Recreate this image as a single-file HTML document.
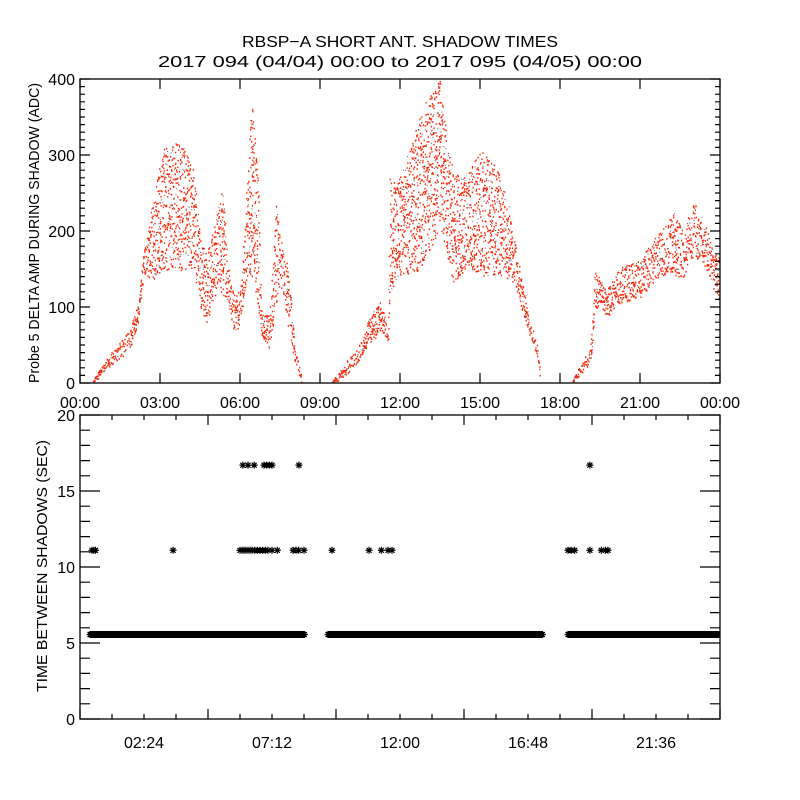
<!DOCTYPE html>
<html><head><meta charset="utf-8"><style>
html,body{margin:0;padding:0;background:#fff;}
svg{display:block;font-family:"Liberation Sans",sans-serif;}
</style></head><body>
<svg id="chart" width="800" height="800" viewBox="0 0 800 800">
<rect width="800" height="800" fill="#fff"/>
<text x="400" y="47" text-anchor="middle" font-size="16" textLength="316" lengthAdjust="spacingAndGlyphs">RBSP−A SHORT ANT. SHADOW TIMES</text>
<text x="400" y="67" text-anchor="middle" font-size="16" textLength="484" lengthAdjust="spacingAndGlyphs">2017 094 (04/04) 00:00 to 2017 095 (04/05) 00:00</text>
<defs><clipPath id="clipTop"><rect x="80" y="79" width="640" height="304"/></clipPath>
<clipPath id="clipBot"><rect x="80" y="415" width="640" height="304"/></clipPath></defs>
<g id="topPanel"></g>
<g id="botPanel"></g>
</svg>
<script>
// ---- top panel data (envelope of probe 5 delta amp) ----
const seg1Hours=[0.49,1.24,1.88,2.18,2.37,2.62,3.1,3.75,4.25,4.5,4.75,5.1,5.35,5.55,5.75,6.0,6.2,6.45,6.68,6.8,7.1,7.35,7.5,7.8,8.05,8.3];
const seg1Lo=[0,25,45,80,140,130,150,146,152,100,80,120,116,107,67,76,120,142,99,63,45,103,133,73,28,0];
const seg1Hi=[5,45,70,110,170,220,310,318,288,195,169,218,261,152,116,125,230,384,252,90,90,239,195,152,54,10];
const seg2Hours=[9.45,10.0,10.5,10.87,11.3,11.55,11.62,12.0,12.63,13.1,13.5,13.75,14.0,14.5,15.0,15.62,16.1,16.4,16.75,17.12,17.25];
const seg2Lo=[0,10,33,54,67,54,120,142,146,173,204,169,133,152,142,142,138,120,73,37,0];
const seg2Hi=[3,30,54,90,109,63,274,274,340,384,400,327,274,274,307,284,231,165,99,54,15];
const seg3Hours=[18.45,18.85,19.12,19.22,19.3,19.5,19.75,20.25,21.0,21.5,22.0,22.25,22.62,23.0,23.37,23.75,24.0];
const seg3Lo=[0,15,26,50,100,96,87,105,109,132,145,140,139,166,158,123,110];
const seg3Hi=[3,30,47,87,153,136,123,153,162,189,211,226,198,241,219,171,165];
const topYTicks=[0,100,200,300,400];
const topXTickHours=[0,3,6,9,12,15,18,21,24];
const topXTickLabels=["00:00","03:00","06:00","09:00","12:00","15:00","18:00","21:00","00:00"];
// ---- bottom panel data ----
const bandStarts=[0.375,9.3,18.3];
const bandEnds=[8.44,17.36,24.0];
const bandValue=5.56;
const t11Hours=[0.45,0.52,0.58,3.49,6.0,6.08,6.15,6.22,6.3,6.38,6.45,6.55,6.65,6.75,6.85,6.95,7.05,7.2,7.4,7.99,8.1,8.2,8.4,9.45,10.84,11.3,11.55,11.7,18.3,18.42,18.55,19.12,19.55,19.7,19.8];
const t11Value=11.1;
const t17Hours=[6.11,6.3,6.53,6.9,7.0,7.1,7.2,8.21,19.12];
const t17Value=16.7;
const botYTicks=[0,5,10,15,20];
const botXTickHours=[2.4,7.2,12,16.8,21.6];
const botXTickLabels=["02:24","07:12","12:00","16:48","21:36"];

const NS="http://www.w3.org/2000/svg";
const X0=80,X1=720;
const xs=h=>X0+(X1-X0)*h/24;
const yTop=v=>383-(383-79)*v/400;
const yBot=v=>719-(719-415)*v/20;
function mk(tag,attrs,parent){const e=document.createElementNS(NS,tag);for(const k in attrs)e.setAttribute(k,attrs[k]);parent.appendChild(e);return e;}
function hashFrac(n){let h=Math.imul(n^0x9e3779b9,0x85ebca6b);h^=h>>>13;h=Math.imul(h,0xc2b2ae35);h^=h>>>16;return (h>>>0)/4294967296;}

const topG=document.getElementById('topPanel');
const botG=document.getElementById('botPanel');

// top dots (envelope filled with a deterministic scatter pattern)
const dotsG=mk('g',{'clip-path':'url(#clipTop)'},topG);


function interp(hs,arr,t){for(let i=0;i<hs.length-1;i++){if(t>=hs[i]&&t<=hs[i+1]){const f=(t-hs[i])/(hs[i+1]-hs[i]);return arr[i]+(arr[i+1]-arr[i])*f;}}return arr[arr.length-1];}
let redPath="",darkPath="",cnt=0;
[[seg1Hours,seg1Lo,seg1Hi],[seg2Hours,seg2Lo,seg2Hi],[seg3Hours,seg3Lo,seg3Hi]].forEach(([hs,lo,hi])=>{
  for(let t=hs[0];t<=hs[hs.length-1];t+=0.012){
    const l=interp(hs,lo,t),u=interp(hs,hi,t);
    const n=1+Math.round((u-l)/50);
    for(let j=0;j<n;j++){
      cnt++;
      const fr=hashFrac(cnt*3+1);
      const dx=(hashFrac(cnt*7+5)-0.5)*0.6;
      const v=l+(u-l)*fr;
      const px=(xs(t)+dx).toFixed(1),py=yTop(v).toFixed(1);
      if(cnt%6===0) darkPath+=`M${px} ${py}h1v1h-1z`;
      else redPath+=`M${px} ${py}h1.3v1.6h-1.3z`;
    }
  }
});
const rp=mk('path',{d:redPath,fill:'#ff2200'},dotsG);


const dp=mk('path',{d:darkPath,fill:'#555'},dotsG);



function frame(g,y0,y1,name){const r=mk('rect',{x:X0,y:y0,width:X1-X0,height:y1-y0,fill:'none',stroke:'#000','stroke-width':1.3},g);

}
frame(topG,79,383,'top-plot-frame');
frame(botG,415,719,'bottom-plot-frame');

// top ticks
let tk="";
for(let v=0;v<=400;v+=10){const y=yTop(v);const L=(v%100===0)?10:5;tk+=`M${X0} ${y}h${L}M${X1} ${y}h${-L}`;}
topXTickHours.forEach(h=>{const x=xs(h);tk+=`M${x} 383v-10M${x} 79v10`;});
const tkp=mk('path',{d:tk,stroke:'#000','stroke-width':1.2,fill:'none'},topG);


topYTicks.forEach(v=>{const t=mk('text',{x:75,y:yTop(v)+6,'text-anchor':'end','font-size':16},topG);t.textContent=v;

});
topXTickHours.forEach((h,i)=>{const t=mk('text',{x:xs(h),y:408,'text-anchor':'middle','font-size':16},topG);t.textContent=topXTickLabels[i];

});
const ytt=mk('text',{x:0,y:0,'text-anchor':'middle','font-size':15,textLength:300,lengthAdjust:'spacingAndGlyphs',transform:'translate(39,233) rotate(-90)'},topG);
ytt.textContent='Probe 5 DELTA AMP DURING SHADOW (ADC)';



// bottom ticks
let bk="";
for(let v=0;v<=20;v+=1){const y=yBot(v);const L=(v%5===0)?20:10;bk+=`M${X0} ${y}h${L}M${X1} ${y}h${-L}`;}
for(let h=0;h<=24.001;h+=1.2){const x=xs(h);const major=Math.abs((h/4.8)-Math.round(h/4.8))<0.01;const L=major?10:5;bk+=`M${x} 719v${-L}M${x} 415v${L}`;}
const bkp=mk('path',{d:bk,stroke:'#000','stroke-width':1.2,fill:'none'},botG);


botYTicks.forEach(v=>{const t=mk('text',{x:75,y:yBot(v)+6,'text-anchor':'end','font-size':16},botG);t.textContent=v;

});
botXTickHours.forEach((h,i)=>{const t=mk('text',{x:xs(h),y:748,'text-anchor':'middle','font-size':16},botG);t.textContent=botXTickLabels[i];

});
const btt=mk('text',{x:0,y:0,'text-anchor':'middle','font-size':15,textLength:252,lengthAdjust:'spacingAndGlyphs',transform:'translate(47,566) rotate(-90)'},botG);
btt.textContent='TIME BETWEEN SHADOWS (SEC)';



// stars
const starG=mk('g',{'clip-path':'url(#clipBot)'},botG);


function star(x,y){const r=3.5,d=2.5;return `M${x-r} ${y}h${2*r}M${x} ${y-r}v${2*r}M${x-d} ${y-d}l${2*d} ${2*d}M${x-d} ${y+d}l${2*d} ${-2*d}`;}
let sp="";
bandStarts.forEach((s,i)=>{for(let h=s;h<=bandEnds[i];h+=0.03)sp+=star(xs(h),yBot(bandValue));});
const bandPath=mk('path',{d:sp,stroke:'#000','stroke-width':1.2,fill:'none'},starG);


let s11="";t11Hours.forEach(h=>{s11+=star(xs(h),yBot(t11Value));});
const p11=mk('path',{d:s11,stroke:'#000','stroke-width':1.2,fill:'none'},starG);


let s17="";t17Hours.forEach(h=>{s17+=star(xs(h),yBot(t17Value));});
const p17=mk('path',{d:s17,stroke:'#000','stroke-width':1.2,fill:'none'},starG);


</script>
</body></html>
